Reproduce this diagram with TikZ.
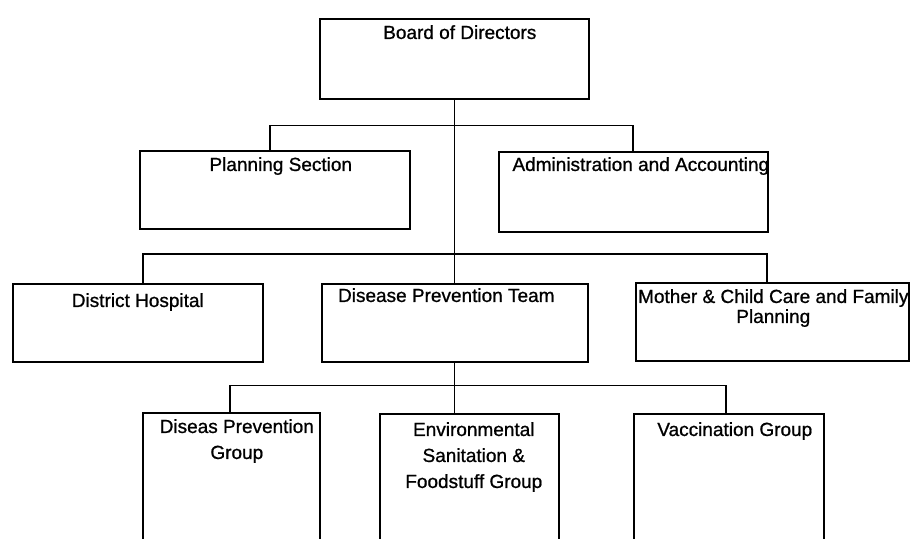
\documentclass[tikz,border=0pt]{standalone}
\usepackage{fontspec}
\setmainfont{Liberation Sans}
\newfontfamily\orgfont{Liberation Sans}[FakeBold=0.9]
\usepackage{xcolor}
\usepackage{tikz}
\usetikzlibrary{positioning,calc}

\begin{document}
\begin{tikzpicture}[x=1pt, y=-1pt,
    unit/.style={draw, line width=1.6pt, inner sep=0pt, anchor=north west},
    caption/.style={inner sep=0pt, anchor=north, align=center, font=\orgfont\fontsize{19}{26}\selectfont},
    link/.style={line width=1.4pt}]
\useasboundingbox (0,0) rectangle (915,538);
\clip (0,0) rectangle (915,538);

\node[unit, minimum width=269pt, minimum height=80pt] (board) at (319,18) {};
\node[unit, minimum width=270pt, minimum height=78pt] (plan) at (139,150) {};
\node[unit, minimum width=269pt, minimum height=80pt] (admin) at (498,151) {};
\node[unit, minimum width=250pt, minimum height=78pt] (hosp) at (12,283) {};
\node[unit, minimum width=266pt, minimum height=78pt] (team) at (321,283) {};
\node[unit, minimum width=273pt, minimum height=78pt] (mother) at (635,282) {};
\node[unit, minimum width=177pt, minimum height=160pt] (prev) at (142,412) {};
\node[unit, minimum width=179pt, minimum height=160pt] (env) at (379,413) {};
\node[unit, minimum width=190pt, minimum height=160pt] (vacc) at (633,413) {};

\node[caption] (board-t) at ([xshift=5.5pt, yshift=-7pt]board.north) {Board of Directors};
\node[caption] (plan-t) at ([xshift=6pt, yshift=-7pt]plan.north) {Planning Section};
\node[caption] (admin-t) at ([xshift=7.5pt, yshift=-6pt]admin.north) {Administration and Accounting};
\node[caption] (hosp-t) at ([yshift=-10pt]hosp.north) {District Hospital};
\node[caption] (team-t) at ([xshift=-8.5pt, yshift=-5pt]team.north) {Disease Prevention Team};
\node[caption, font=\orgfont\fontsize{19}{20}\selectfont] (mother-t) at ([xshift=1pt, yshift=-7pt]mother.north)
    {Mother \& Child Care and Family\\Planning};
\node[caption] (prev-t) at ([xshift=5.5pt, yshift=-7pt]prev.north) {Diseas Prevention\\Group};
\node[caption] (env-t) at ([xshift=4.5pt, yshift=-9pt]env.north) {Environmental\\Sanitation \&\\Foodstuff Group};
\node[caption] (vacc-t) at ([xshift=6pt, yshift=-9pt]vacc.north) {Vaccination Group};

\coordinate (fork1) at ($(board.south)+(0,26)$);
\coordinate (fork2) at ($(board.south |- team.north)+(0,-29)$);
\coordinate (fork3) at ($(board.south |- team.south)+(0,23)$);

\draw[link] (board.south) -- (board.south |- team.north);
\draw[link] ([xshift=-5pt]plan.north) |- (fork1) -| ([xshift=-0.5pt]admin.north);
\draw[link] ([xshift=5pt]hosp.north) |- (fork2) -| ([xshift=-5.5pt]mother.north);
\draw[link] (board.south |- team.south) -- (board.south |- env.north);
\draw[link] ([xshift=-1.5pt]prev.north) |- (fork3) -| ([xshift=-3pt]vacc.north);
\end{tikzpicture}
\end{document}
